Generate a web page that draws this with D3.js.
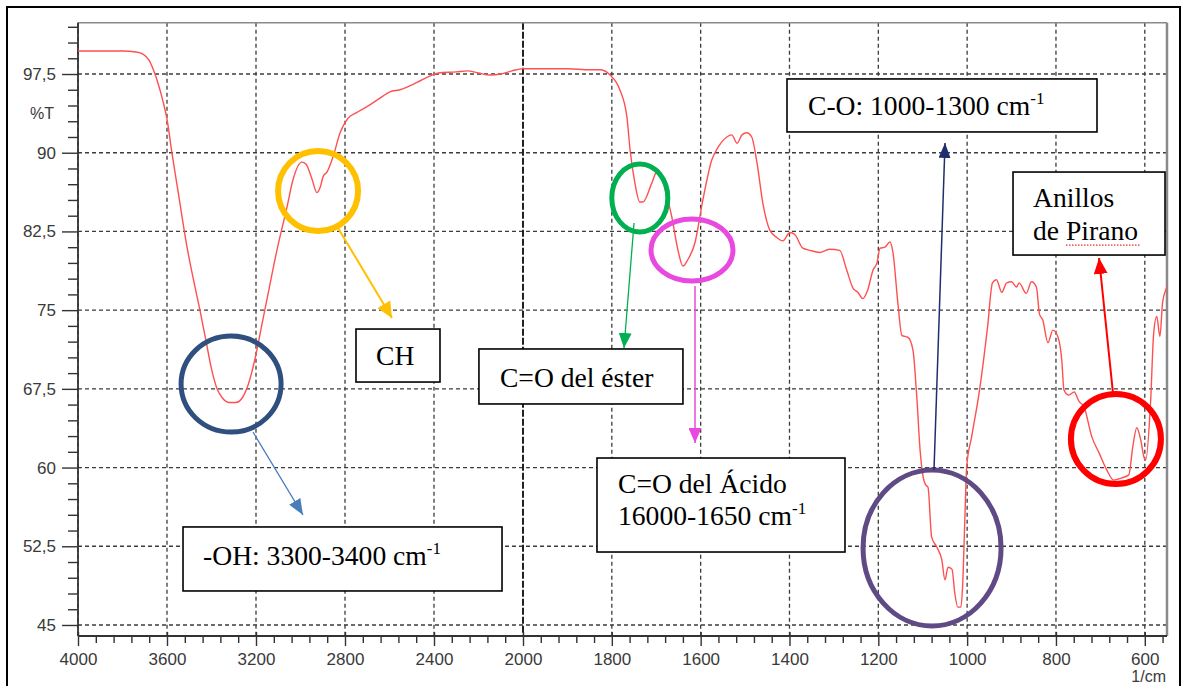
<!DOCTYPE html>
<html><head><meta charset="utf-8">
<script src="https://cdn.jsdelivr.net/npm/d3@7"></script>
<style>html,body{margin:0;padding:0;background:#fff;overflow:hidden}</style>
</head><body><svg id="c" width="1181" height="686"></svg>
<script>
// ---- data (wavenumber in 1/cm, transmittance in %T) ----
const wavenumbers = [4000,3900,3800,3740,3708,3680,3663,3640,3618,3600,3578,3550,3510,3480,3452,3425,3400,3375,3350,3320,3290,3260,3240,3220,3196,3170,3151,3106,3061,3034,2994,2975,2950,2926,2910,2899,2880,2854,2822,2786,2750,2701,2650,2598,2553,2476,2420,2380,2300,2250,2200,2150,2100,2050,2000,1950,1900,1849,1827,1804,1782,1766,1759,1748,1737,1730,1710,1696,1680,1665,1651,1640,1629,1613,1595,1575,1561,1541,1530,1518,1507,1496,1485,1473,1460,1444,1428,1415,1399,1388,1370,1354,1332,1310,1287,1271,1257,1246,1235,1224,1212,1203,1196,1185,1174,1167,1156,1147,1133,1122,1113,1106,1099,1094,1088,1080,1068,1057,1050,1043,1034,1028,1021,1014,1010,1005,1001,990,972,954,943,934,922,911,900,889,883,867,855,844,837,830,818,807,796,787,782,771,759,748,737,719,703,686,670,653,636,627,618,609,602,598,587,580,573,566,560,553,550];
const transmittance = [99.7,99.7,99.7,99.6,99.4,98.8,98.0,96.6,94.9,93.2,90.0,86.3,81.0,77.8,75.0,72.1,69.4,67.5,66.6,66.2,66.2,66.7,67.6,69.0,71.2,74.0,76.0,80.7,84.8,87.4,89.1,88.9,87.6,86.2,86.8,87.7,88.2,89.6,91.9,93.3,93.8,94.4,95.1,95.8,96.0,96.7,97.3,97.6,97.7,97.8,97.6,97.4,97.5,97.8,98.0,98.0,98.0,97.9,97.9,97.4,96.0,93.4,90.3,87.1,85.3,85.3,87.1,88.4,86.5,83.9,80.7,79.2,79.8,81.4,85.5,89.3,90.5,91.5,91.7,90.9,91.7,91.9,91.5,89.0,85.2,82.6,81.9,81.6,82.4,82.2,80.9,80.7,80.5,80.8,80.7,78.8,77.1,76.7,76.1,76.9,78.8,79.5,80.9,81.0,81.5,80.5,75.7,72.6,72.4,71.2,66.5,61.7,59.1,58.4,58.1,53.4,52.4,51.2,49.3,50.5,50.3,48.1,46.7,46.7,48.9,55.3,60.1,62.9,67.4,73.4,77.6,77.9,76.7,77.6,77.7,77.2,77.6,76.6,77.7,77.2,74.6,74.1,71.9,73.1,72.5,70.3,67.4,66.9,67.2,66.3,65.8,62.9,61.4,59.8,58.8,59.0,59.3,62.0,63.8,62.6,61.0,60.7,66.2,72.8,74.4,72.5,75.7,76.9,77.2];

const xTickValues = [4000,3600,3200,2800,2400,2000,1800,1600,1400,1200,1000,800,600];
const yTickValues = [45,52.5,60,67.5,75,82.5,90,97.5];
const yTickLabels = ["45","52,5","60","67,5","75","82,5","90","97,5"];
const yAxisTitle = "%T";
const xAxisTitle = "1/cm";

// annotation texts
const labelCH = "CH";
const labelOH = ["-OH: 3300-3400 cm", "-1"];
const labelEster = "C=O del éster";
const labelAcido1 = "C=O del Ácido";
const labelAcido2 = ["16000-1650 cm", "-1"];
const labelCO = ["C-O: 1000-1300 cm", "-1"];
const labelPirano = ["Anillos", "de Pirano"];

// ---- drawing ----
const svg = d3.select("#c");
const L = 78, R = 1167, T = 22.7, B = 636;
const x = d3.scaleLinear().domain([4000, 2000, 550]).range([L, 523, R]);
const y = d3.scaleLinear().domain([43.95, 102.39]).range([B, T]);

// outer frame
svg.append("rect").attr("x",7).attr("y",7).attr("width",1173).attr("height",700)
  .attr("fill","#fff").attr("stroke","#000").attr("stroke-width",2);

// grid
const g = svg.append("g");
g.selectAll(".hg").data(yTickValues).join("line")
  .attr("x1",L).attr("x2",R).attr("y1",d=>y(d)).attr("y2",d=>y(d))
  .attr("stroke","#3c3c3c").attr("stroke-width",1.3).attr("stroke-dasharray","4,3");
g.selectAll(".vg").data(xTickValues.filter(d=>d!==2000)).join("line")
  .attr("x1",d=>x(d)).attr("x2",d=>x(d)).attr("y1",T).attr("y2",B)
  .attr("stroke","#3c3c3c").attr("stroke-width",1.3).attr("stroke-dasharray","4,3");
g.append("line").attr("x1",x(2000)).attr("x2",x(2000)).attr("y1",T).attr("y2",B)
  .attr("stroke","#222").attr("stroke-width",2).attr("stroke-dasharray","7,2");

// plot frame (top/right)
svg.append("line").attr("x1",L).attr("x2",R).attr("y1",T).attr("y2",T).attr("stroke","#8a8a8a").attr("stroke-width",1.5);
svg.append("line").attr("x1",R).attr("x2",R).attr("y1",T).attr("y2",B).attr("stroke","#8a8a8a").attr("stroke-width",2.5);

// minor ticks
const yMinor = d3.range(45, 102.5, 1.5).filter(v => !yTickValues.some(m => Math.abs(m-v)<1e-6));
const xMinor = d3.range(4000, 2000, -80).concat(d3.range(2000, 555, -40)).filter(v=>!xTickValues.includes(v));

const tickFont = "'Liberation Sans', Arial, sans-serif";
const yMinAxis = svg.append("g").attr("transform",`translate(${L},0)`)
  .call(d3.axisLeft(y).tickValues(yMinor).tickSize(10).tickFormat(""));
yMinAxis.select(".domain").remove();
const yAxis = svg.append("g").attr("transform",`translate(${L},0)`)
  .call(d3.axisLeft(y).tickValues(yTickValues).tickSize(16).tickPadding(6)
    .tickFormat((d,i)=>yTickLabels[i]));
yAxis.select(".domain").attr("d",`M0,${T}V${B}`);

const xMinAxis = svg.append("g").attr("transform",`translate(0,${B})`)
  .call(d3.axisBottom(x).tickValues(xMinor).tickSize(7).tickFormat(""));
xMinAxis.select(".domain").remove();
const xAxis = svg.append("g").attr("transform",`translate(0,${B})`)
  .call(d3.axisBottom(x).tickValues(xTickValues).tickSize(10).tickFormat(d3.format("d")));
xAxis.select(".domain").attr("d",`M${L},0H${R}`);
xAxis.selectAll(".tick line").attr("y1",-4);
xAxis.selectAll(".tick text").attr("y",17);

svg.selectAll(".tick line").attr("stroke","#333").attr("stroke-width",1.4);
svg.selectAll(".domain").attr("stroke","#333").attr("stroke-width",1.8);
svg.selectAll(".tick text").attr("font-family",tickFont).attr("font-size",17).attr("fill","#3a3a3a");

svg.append("text").attr("x",54).attr("y",119).attr("text-anchor","end")
  .attr("font-family",tickFont).attr("font-size",16).attr("fill","#3a3a3a").text(yAxisTitle);
svg.append("text").attr("x",1166).attr("y",682).attr("text-anchor","end")
  .attr("font-family",tickFont).attr("font-size",16).attr("fill","#3a3a3a").text(xAxisTitle);

// spectrum line
const pts = wavenumbers.map((w,i)=>[w, transmittance[i]]);
svg.append("path").datum(pts)
  .attr("d", d3.line().x(d=>x(d[0])).y(d=>y(d[1])).curve(d3.curveMonotoneX))
  .attr("fill","none").attr("stroke","#ff5050").attr("stroke-width",1.4).attr("stroke-linejoin","round");

// ---- annotations ----
const defs = svg.append("defs");
function marker(id, color, len, wid){
  defs.append("marker").attr("id",id).attr("viewBox",`0 ${-wid/2} ${len} ${wid}`)
    .attr("refX",len).attr("refY",0).attr("markerWidth",len).attr("markerHeight",wid)
    .attr("markerUnits","userSpaceOnUse").attr("orient","auto")
    .append("path").attr("d",`M0,${-wid/2}L${len},0L0,${wid/2}Z`).attr("fill",color);
}
function arrow(id, color, w, from, to, len, wid){
  marker(id, color, len, wid);
  svg.append("line").attr("x1",x(from[0])).attr("y1",y(from[1]))
    .attr("x2",x(to[0])).attr("y2",y(to[1]))
    .attr("stroke",color).attr("stroke-width",w).attr("marker-end",`url(#${id})`);
}
function ring(c, rx, ry, color, w){
  svg.append("ellipse").attr("cx",x(c[0])).attr("cy",y(c[1])).attr("rx",rx).attr("ry",ry)
    .attr("fill","none").attr("stroke",color).attr("stroke-width",w);
}
const serif = "'Liberation Serif', 'Times New Roman', serif";
function box(tl, w, h, lines){
  const bx = x(tl[0]), by = y(tl[1]);
  svg.append("rect").attr("x",bx).attr("y",by).attr("width",w).attr("height",h)
    .attr("fill","#fff").attr("stroke","#000").attr("stroke-width",1.6);
  lines.forEach(l=>{
    const t = svg.append("text").attr("x",bx+l.dx).attr("y",by+l.dy)
      .attr("font-family",serif).attr("font-size",27.6).attr("fill","#000");
    t.append("tspan").text(l.text);
    if (l.sup) t.append("tspan").attr("font-size",17).attr("dy",-11).text(l.sup);
  });
  return {bx, by};
}

// circles
ring([2921, 86.35], 40, 40, "#FFC000", 6);
ring([3312, 67.96], 50, 48, "#2F4F7F", 5);
ring([1737, 85.69], 28, 34, "#00B050", 5);
ring([1619.5, 80.73], 41, 31, "#E84ADF", 5);
ring([1079, 52.34], 69, 78, "#604A86", 5);
ring([665, 62.72], 45, 45, "#FF0000", 6);

// arrows
arrow("ay", "#FFC000", 2, [2831.5, 82.83], [2588.8, 74.25], 16, 15);
arrow("ab", "#4A7EBB", 1.3, [3213.5, 63.39], [2988.8, 55.48], 16, 13);
arrow("ag", "#00B050", 1.3, [1750, 83.3], [1772.6, 71.39], 15, 13);
arrow("am", "#E84ADF", 1.5, [1612.7, 77.3], [1612.7, 62.34], 15, 13);
arrow("an", "#1F2F6E", 1.5, [1074.6, 59.77], [1049.8, 90.93], 15, 12);
arrow("ar", "#FF0000", 2, [671.6, 67.1], [703, 79.97], 16, 14);

// text boxes
box([2750.6, 73.2], 84, 53, [{text:labelCH, dx:20, dy:36}]);
box([3528, 54.34], 319, 64, [{text:labelOH[0], sup:labelOH[1], dx:20, dy:38}]);
box([2198, 71.3], 204, 55, [{text:labelEster, dx:21, dy:38}]);
box([1833.4, 60.91], 248, 94, [{text:labelAcido1, dx:21, dy:35},{text:labelAcido2[0], sup:labelAcido2[1], dx:21, dy:67}]);
box([1405.6, 97.03], 310, 53, [{text:labelCO[0], sup:labelCO[1], dx:21, dy:36}]);
const pb = box([896.7, 88.16], 152, 83, [{text:labelPirano[0], dx:20, dy:35},{text:labelPirano[1], dx:20, dy:68}]);
// spell-check squiggle under "Pirano"
svg.append("line").attr("x1",pb.bx+53).attr("x2",pb.bx+128).attr("y1",pb.by+73).attr("y2",pb.by+73)
  .attr("stroke","#e03030").attr("stroke-width",1.2).attr("stroke-dasharray","1.5,1.5");
</script></body></html>
